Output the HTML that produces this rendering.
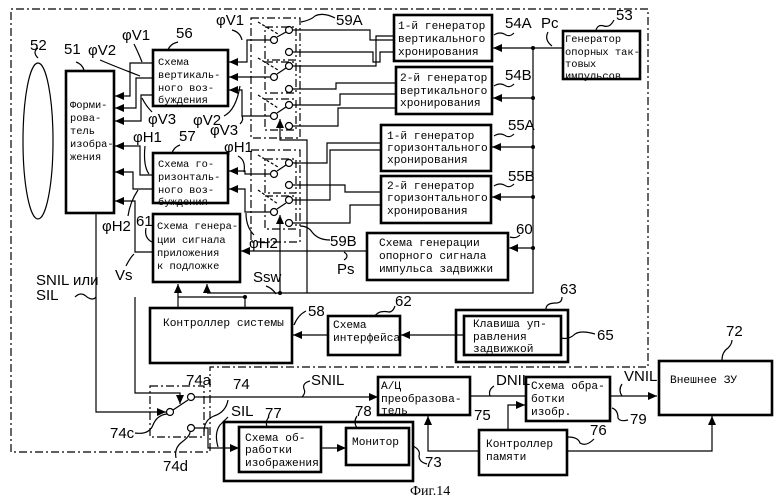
<!DOCTYPE html>
<html><head><meta charset="utf-8"><style>
html,body{margin:0;padding:0;background:#fff}
svg{display:block}
.b{fill:none;stroke:#000;stroke-width:2.6}
.t{font-family:"Liberation Mono",monospace;font-size:11.2px;fill:#000}
.s{font-size:10.4px}
.n{font-family:"Liberation Sans",sans-serif;font-size:15px;fill:#000}
.l{fill:none;stroke:#000;stroke-width:1.2}
.d{fill:none;stroke:#000;stroke-width:1.2;stroke-dasharray:8,3,2,3}
</style></head><body>
<svg width="780" height="504" viewBox="0 0 780 504" xmlns="http://www.w3.org/2000/svg">
<defs>
<marker id="a" markerWidth="10" markerHeight="10" refX="9" refY="5" orient="auto" markerUnits="userSpaceOnUse"><path d="M0,1 L9,5 L0,9 z" fill="#000"/></marker>
</defs>
<path class="d" d="M11,452 L11,9 L648,9 L648,367 L210,367 L210,452 Z"/>
<ellipse cx="38" cy="141" rx="15" ry="78" class="l" stroke-width="1.4"/>
<text class="n" x="30" y="50">52</text>
<path class="l" d="M38,58 q-6,-6 0,-10"/>
<rect class="b" x="66" y="71" width="48" height="142"/>
<text class="n" x="64" y="54">51</text>
<path class="l" d="M84,70 q-2,-6 -8,-8"/>
<text class="t s" x="70" y="108">Форми-</text>
<text class="t s" x="70" y="121">рова-</text>
<text class="t s" x="70" y="134">тель</text>
<text class="t s" x="70" y="147">изобра-</text>
<text class="t s" x="70" y="160">жения</text>
<rect class="b" x="153" y="50" width="75" height="56"/>
<text class="n" x="176" y="38">56</text>
<path class="l" d="M168,50 q2,-6 10,-8"/>
<text class="t s" x="158" y="65">Схема</text>
<text class="t s" x="158" y="78">вертикаль-</text>
<text class="t s" x="158" y="91">ного воз-</text>
<text class="t s" x="158" y="103">буждения</text>
<rect class="b" x="153" y="153" width="75" height="50"/>
<text class="n" x="179" y="141">57</text>
<path class="l" d="M172,153 q2,-6 8,-8"/>
<text class="t s" x="158" y="167">Схема го-</text>
<text class="t s" x="158" y="180">ризонталь-</text>
<text class="t s" x="158" y="193">ного воз-</text>
<text class="t s" x="158" y="205">буждения</text>
<rect class="b" x="153" y="214" width="87" height="68"/>
<text class="n" x="136" y="226">61</text>
<path class="l" d="M146,228 q-2,10 6,14"/>
<text class="t s" x="157" y="229">Схема генера-</text>
<text class="t s" x="157" y="243">ции сигнала</text>
<text class="t s" x="157" y="256">приложения</text>
<text class="t s" x="157" y="269">к подложке</text>
<rect class="b" x="394" y="15" width="98" height="46"/>
<text class="t" x="398" y="29">1-й генератор</text>
<text class="t" x="398" y="42">вертикального</text>
<text class="t" x="398" y="55">хронирования</text>
<rect class="b" x="396" y="67" width="96" height="47"/>
<text class="t" x="400" y="81">2-й генератор</text>
<text class="t" x="400" y="94">вертикального</text>
<text class="t" x="400" y="106">хронирования</text>
<rect class="b" x="381" y="125" width="110" height="46"/>
<text class="t" x="387" y="139">1-й генератор</text>
<text class="t" x="387" y="151">горизонтального</text>
<text class="t" x="387" y="163">хронирования</text>
<rect class="b" x="381" y="176" width="110" height="47"/>
<text class="t" x="387" y="189">2-й генератор</text>
<text class="t" x="387" y="201">горизонтального</text>
<text class="t" x="387" y="214">хронирования</text>
<rect class="b" x="367" y="233" width="141" height="47"/>
<text class="t" x="379" y="246">Схема генерации</text>
<text class="t" x="379" y="259">опорного сигнала</text>
<text class="t" x="379" y="272">импульса задвижки</text>
<rect class="b" x="563" y="31" width="77" height="48"/>
<text class="t s" x="565" y="42">Генератор</text>
<text class="t s" x="565" y="55">опорных так-</text>
<text class="t s" x="565" y="67">товых</text>
<text class="t s" x="565" y="79">импульсов</text>
<text class="n" x="505" y="28">54A</text><path class="l" d="M494,35 q6,-4 12,0 q4,2 8,-2"/>
<text class="n" x="505" y="80">54B</text><path class="l" d="M494,86 q6,-4 12,0 q4,2 8,-2"/>
<text class="n" x="508" y="130">55A</text><path class="l" d="M494,136 q6,-4 12,0 q4,2 8,-2"/>
<text class="n" x="508" y="181">55B</text><path class="l" d="M494,186 q6,-4 12,0 q4,2 8,-2"/>
<text class="n" x="516" y="234">60</text><path class="l" d="M510,237 q6,2 10,-2"/>
<text class="n" x="541" y="28">Pc</text><path class="l" d="M548,32 q-4,8 4,14"/>
<text class="n" x="616" y="20">53</text><path class="l" d="M596,30 q2,-6 8,-4 q6,2 10,-6"/>
<path class="l" d="M563,48 L533,48 L533,293 L207,293"/>
<path class="l" marker-end="url(#a)" d="M533,48 L493,48"/>
<path class="l" marker-end="url(#a)" d="M533,98 L493,98"/>
<path class="l" marker-end="url(#a)" d="M533,147 L492,147"/>
<path class="l" marker-end="url(#a)" d="M533,197 L492,197"/>
<path class="l" marker-end="url(#a)" d="M533,248 L509,248"/>
<g fill="#000"><circle cx="533" cy="48" r="2"/><circle cx="533" cy="98" r="2"/><circle cx="533" cy="147" r="2"/><circle cx="533" cy="197" r="2"/><circle cx="533" cy="248" r="2"/><circle cx="280" cy="293" r="2"/><circle cx="245" cy="297" r="2"/></g>
<path class="l" marker-end="url(#a)" d="M207,293 L207,284"/>
<rect class="d" x="251" y="18" width="49" height="120"/>
<rect class="d" x="265" y="27" width="31" height="33"/>
<rect class="d" x="265" y="62" width="31" height="31"/>
<rect class="d" x="265" y="99" width="31" height="31"/>
<text class="n" x="336" y="25">59A</text><path class="l" d="M301,22 q10,-2 14,-6 q8,-4 20,2"/>
<rect class="d" x="251" y="150" width="49" height="92"/>
<rect class="d" x="265" y="159" width="31" height="34"/>
<rect class="d" x="265" y="196" width="31" height="33"/>
<text class="n" x="330" y="246">59B</text><path class="l" d="M300,226 q8,0 12,6 q6,8 18,8"/>
<g class="l" fill="#fff" stroke-width="1.2">
<circle cx="289" cy="30" r="3.5"/><circle cx="274" cy="40" r="3.5"/><circle cx="289" cy="52" r="3.5"/>
<circle cx="289" cy="66" r="3.5"/><circle cx="274" cy="77" r="3.5"/><circle cx="289" cy="89" r="3.5"/>
<circle cx="289" cy="105" r="3.5"/><circle cx="274" cy="116" r="3.5"/><circle cx="289" cy="126" r="3.5"/>
<circle cx="289" cy="163" r="3.5"/><circle cx="274" cy="174" r="3.5"/><circle cx="289" cy="185" r="3.5"/>
<circle cx="289" cy="200" r="3.5"/><circle cx="274" cy="212" r="3.5"/><circle cx="289" cy="223" r="3.5"/>
</g>
<path class="l" d="M277,37 L286,32 M277,74 L286,68 M277,113 L286,107 M277,171 L286,165 M277,209 L286,203"/>
<path class="l" stroke-dasharray="3,2" d="M258,22 L278,34 M258,58 L278,70 M258,95 L278,108 M258,155 L278,167 M258,190 L278,204"/>
<path class="l" marker-end="url(#a)" d="M307,293 L307,140 L280,140 L280,119"/>
<path class="l" marker-end="url(#a)" d="M280,293 L280,215"/>
<path class="l" d="M245,307 L245,297 L178,297"/>
<path class="l" marker-end="url(#a)" d="M178,307 L178,284"/>
<path class="l" d="M293,30 L370,30 L370,40 L394,40"/>
<path class="l" d="M293,52 L373,52 L373,62 L380,62 L380,52 L394,52"/>
<path class="l" d="M293,66 L376,66 L376,36 L394,36"/>
<path class="l" d="M293,89 L336,89 L336,83 L396,83"/>
<path class="l" d="M293,105 L340,105 L340,94 L396,94"/>
<path class="l" d="M293,126 L338,126 L338,108 L396,108"/>
<path class="l" d="M293,163 L327,163 L327,143 L381,143"/>
<path class="l" d="M293,185 L345,185 L345,192 L381,192"/>
<path class="l" d="M293,200 L330,200 L330,150 L381,150"/>
<path class="l" d="M293,223 L350,223 L350,205 L381,205"/>
<path class="l" marker-end="url(#a)" d="M270,40 L247,40 L247,62 L229,62"/>
<path class="l" marker-end="url(#a)" d="M270,77 L229,77"/>
<path class="l" marker-end="url(#a)" d="M270,116 L242,116 L242,90 L229,90"/>
<path class="l" marker-end="url(#a)" d="M270,174 L245,174 L245,171 L229,171"/>
<path class="l" marker-end="url(#a)" d="M270,212 L245,212 L245,189 L229,189"/>
<path class="l" marker-end="url(#a)" d="M153,63 L130,63 L130,96 L115,96"/>
<path class="l" marker-end="url(#a)" d="M153,78 L136,78 L136,108 L115,108"/>
<path class="l" marker-end="url(#a)" d="M153,95 L141,95 L141,121 L115,121"/>
<path class="l" marker-end="url(#a)" d="M153,175 L140,175 L140,146 L115,146"/>
<path class="l" marker-end="url(#a)" d="M153,189 L133,189 L133,172 L115,172"/>
<path class="l" marker-end="url(#a)" d="M153,252 L135,252 L135,201 L115,201"/>
<path class="l" marker-end="url(#a)" d="M367,251 L241,251"/>
<text class="n" x="122" y="40">φV1</text><path class="l" d="M134,44 q4,8 8,18"/>
<text class="n" x="88" y="55">φV2</text><path class="l" d="M100,60 q14,6 40,16"/>
<text class="n" x="148" y="124">φV3</text><path class="l" d="M152,112 q-6,-6 -10,-14"/>
<text class="n" x="216" y="25">φV1</text><path class="l" d="M232,30 q8,2 10,10"/>
<text class="n" x="193" y="125">φV2</text><path class="l" d="M224,116 q12,-6 16,-30"/>
<text class="n" x="210" y="135">φV3</text><path class="l" d="M240,124 q4,-4 2,-8"/>
<text class="n" x="133" y="142">φH1</text><path class="l" d="M145,146 q-2,20 4,28"/>
<text class="n" x="224" y="152">φH1</text><path class="l" d="M238,156 q8,4 6,16"/>
<text class="n" x="102" y="231">φH2</text><path class="l" d="M128,216 q2,-14 10,-26"/>
<text class="n" x="249" y="248">φH2</text><path class="l" d="M254,235 q-8,-8 -8,-22"/>
<text class="n" x="115" y="280">Vs</text><path class="l" d="M126,266 q4,-8 8,-12"/>
<text class="n" x="337" y="274">Ps</text><path class="l" d="M344,260 q6,-4 0,-8"/>
<text class="n" x="253" y="282">Ssw</text><path class="l" d="M266,286 q6,2 10,8"/>
<text class="n" x="36" y="285">SNIL или</text>
<text class="n" x="36" y="300">SIL</text>
<path class="l" d="M75,297 q6,-6 12,0 q6,4 9,0"/>
<rect class="b" x="150" y="308" width="142" height="55"/>
<text class="t" x="163" y="326">Контроллер системы</text>
<text class="n" x="308" y="316">58</text><path class="l" d="M294,325 q4,-10 12,-14"/>
<rect class="b" x="328" y="316" width="72" height="39"/>
<text class="t" x="333" y="328">Схема</text>
<text class="t" x="333" y="341">интерфейса</text>
<text class="n" x="395" y="306">62</text><path class="l" d="M375,316 q4,-6 14,-4 q4,0 6,-6"/>
<rect class="b" x="456" y="310" width="112" height="52"/>
<rect class="b" x="464" y="316" width="97" height="39" stroke-width="2"/>
<text class="t" x="473" y="327">Клавиша уп-</text>
<text class="t" x="473" y="340">равления</text>
<text class="t" x="473" y="352">задвижкой</text>
<text class="n" x="560" y="294">63</text><path class="l" d="M546,309 q0,-6 10,-6 q6,0 6,-6"/>
<text class="n" x="597" y="340">65</text><path class="l" d="M561,338 q8,2 14,-4 q6,-4 20,0"/>
<path class="l" marker-end="url(#a)" d="M464,335 L401,335"/>
<path class="l" marker-end="url(#a)" d="M328,335 L293,335"/>
<rect class="d" x="150" y="386" width="54" height="51"/>
<g class="l" fill="#fff"><circle cx="191" cy="397" r="3.5"/><circle cx="170" cy="412" r="3.5"/><circle cx="191" cy="428" r="3.5"/></g>
<path class="l" d="M173,410 L188,400"/>
<path class="l" marker-end="url(#a)" d="M135,297 L135,393 L180,393 L180,404"/>
<path class="l" marker-end="url(#a)" d="M96,213 L96,412 L166,412"/>
<path class="l" marker-end="url(#a)" d="M195,397 L378,397"/>
<path class="l" d="M195,428 L208,428 L208,448 L215,448"/>
<path class="l" marker-end="url(#a)" d="M215,448 L239,448"/>
<text class="n" x="186" y="385">74a</text>
<text class="n" x="233" y="389">74</text><path class="l" d="M204,432 q0,-12 10,-16 q12,-4 14,-16"/>
<text class="n" x="110" y="438">74c</text><path class="l" d="M135,433 q14,2 18,-8 q4,-10 14,-11"/>
<text class="n" x="163" y="471">74d</text><path class="l" d="M176,458 q-2,-10 6,-16 q8,-6 8,-10"/>
<text class="n" x="311" y="385">SNIL</text><path class="l" d="M302,397 q4,-4 2,-8 q-2,-6 6,-8"/>
<text class="n" x="231" y="416">SIL</text><path class="l" d="M218,447 q-4,-14 2,-22 q4,-4 8,-8"/>
<rect class="b" x="224" y="422" width="189" height="59"/>
<rect class="b" x="239" y="427" width="82" height="45" stroke-width="2"/>
<text class="t" x="245" y="441">Схема об-</text>
<text class="t" x="245" y="453">работки</text>
<text class="t" x="245" y="466">изображения</text>
<rect class="b" x="346" y="428" width="63" height="37" stroke-width="2"/>
<text class="t" x="352" y="445">Монитор</text>
<path class="l" marker-end="url(#a)" d="M321,448 L346,448"/>
<text class="n" x="265" y="418">77</text><path class="l" d="M267,427 q-2,-6 2,-10"/>
<text class="n" x="355" y="416">78</text><path class="l" d="M357,428 q-4,-6 0,-12"/>
<text class="n" x="425" y="467">73</text><path class="l" d="M413,446 q8,4 6,10 q0,6 8,8"/>
<rect class="b" x="378" y="377" width="92" height="38"/>
<text class="t" x="381" y="389">А/Ц</text>
<text class="t" x="381" y="402">преобразова-</text>
<text class="t" x="381" y="414">тель</text>
<text class="n" x="474" y="420">75</text>
<path class="l" d="M470,396 L525,396"/>
<text class="n" x="496" y="385">DNIL</text><path class="l" d="M490,396 q-2,-6 4,-10"/>
<rect class="b" x="526" y="377" width="84" height="44"/>
<text class="t" x="531" y="389">Схема обра-</text>
<text class="t" x="531" y="402">ботки</text>
<text class="t" x="531" y="415">изобр.</text>
<text class="n" x="630" y="424">79</text><path class="l" d="M612,408 q6,2 6,10 q2,4 10,2"/>
<path class="l" marker-end="url(#a)" d="M610,396 L657,396"/>
<text class="n" x="624" y="381">VNIL</text><path class="l" d="M622,396 q-4,-6 0,-12"/>
<rect class="b" x="659" y="361" width="113" height="54"/>
<text class="t" x="670" y="383">Внешнее ЗУ</text>
<text class="n" x="726" y="336">72</text><path class="l" d="M722,360 q0,-8 6,-12 q4,-4 4,-8"/>
<rect class="b" x="479" y="430" width="88" height="45"/>
<text class="t" x="486" y="447">Контроллер</text>
<text class="t" x="486" y="460">памяти</text>
<text class="n" x="590" y="435">76</text><path class="l" d="M568,437 q10,0 12,6 q6,4 14,-4"/>
<path class="l" marker-end="url(#a)" d="M508,430 L508,405 L525,405"/>
<path class="l" marker-end="url(#a)" d="M479,451 L428,451 L428,416"/>
<path class="l" marker-end="url(#a)" d="M567,451 L712,451 L712,416"/>
<text x="410" y="495" font-family="Liberation Serif,serif" font-size="14">Фиг.14</text>
</svg>
</body></html>
